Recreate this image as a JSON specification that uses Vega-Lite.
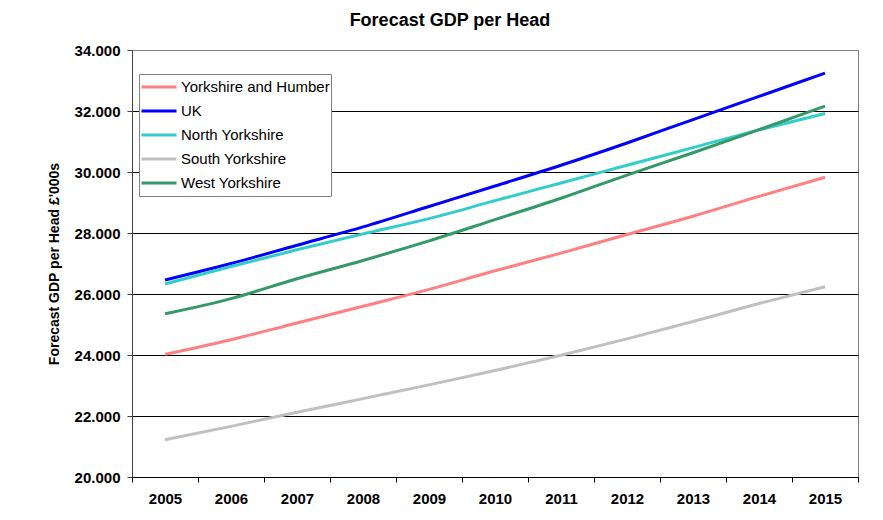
{
  "$schema": "https://vega.github.io/schema/vega-lite/v6.json",
  "width": 726,
  "height": 427,
  "autosize": {"type": "none"},
  "padding": {"left": 132, "top": 50, "right": 25, "bottom": 43},
  "background": "white",
  "title": {
    "text": "Forecast GDP per Head",
    "font": "Liberation Sans",
    "fontSize": 18,
    "fontWeight": "bold",
    "color": "black",
    "anchor": "middle",
    "dx": -45,
    "offset": 13
  },
  "config": {
    "font": "Liberation Sans",
    "view": {"stroke": "#808080", "strokeWidth": 1}
  },
  "data": {
    "values": [
      {"year": "2005", "region": "Yorkshire and Humber", "gdp": 24.02},
      {"year": "2006", "region": "Yorkshire and Humber", "gdp": 24.50},
      {"year": "2007", "region": "Yorkshire and Humber", "gdp": 25.05},
      {"year": "2008", "region": "Yorkshire and Humber", "gdp": 25.60},
      {"year": "2009", "region": "Yorkshire and Humber", "gdp": 26.15},
      {"year": "2010", "region": "Yorkshire and Humber", "gdp": 26.76},
      {"year": "2011", "region": "Yorkshire and Humber", "gdp": 27.34},
      {"year": "2012", "region": "Yorkshire and Humber", "gdp": 27.95},
      {"year": "2013", "region": "Yorkshire and Humber", "gdp": 28.55},
      {"year": "2014", "region": "Yorkshire and Humber", "gdp": 29.20},
      {"year": "2015", "region": "Yorkshire and Humber", "gdp": 29.83},
      {"year": "2005", "region": "UK", "gdp": 26.46},
      {"year": "2006", "region": "UK", "gdp": 27.00},
      {"year": "2007", "region": "UK", "gdp": 27.60},
      {"year": "2008", "region": "UK", "gdp": 28.20},
      {"year": "2009", "region": "UK", "gdp": 28.87},
      {"year": "2010", "region": "UK", "gdp": 29.54},
      {"year": "2011", "region": "UK", "gdp": 30.22},
      {"year": "2012", "region": "UK", "gdp": 30.95},
      {"year": "2013", "region": "UK", "gdp": 31.72},
      {"year": "2014", "region": "UK", "gdp": 32.48},
      {"year": "2015", "region": "UK", "gdp": 33.24},
      {"year": "2005", "region": "North Yorkshire", "gdp": 26.33},
      {"year": "2006", "region": "North Yorkshire", "gdp": 26.90},
      {"year": "2007", "region": "North Yorkshire", "gdp": 27.45},
      {"year": "2008", "region": "North Yorkshire", "gdp": 27.97},
      {"year": "2009", "region": "North Yorkshire", "gdp": 28.47},
      {"year": "2010", "region": "North Yorkshire", "gdp": 29.06},
      {"year": "2011", "region": "North Yorkshire", "gdp": 29.64},
      {"year": "2012", "region": "North Yorkshire", "gdp": 30.22},
      {"year": "2013", "region": "North Yorkshire", "gdp": 30.80},
      {"year": "2014", "region": "North Yorkshire", "gdp": 31.38},
      {"year": "2015", "region": "North Yorkshire", "gdp": 31.92},
      {"year": "2005", "region": "South Yorkshire", "gdp": 21.22},
      {"year": "2006", "region": "South Yorkshire", "gdp": 21.66},
      {"year": "2007", "region": "South Yorkshire", "gdp": 22.12},
      {"year": "2008", "region": "South Yorkshire", "gdp": 22.57},
      {"year": "2009", "region": "South Yorkshire", "gdp": 23.02},
      {"year": "2010", "region": "South Yorkshire", "gdp": 23.49},
      {"year": "2011", "region": "South Yorkshire", "gdp": 23.99},
      {"year": "2012", "region": "South Yorkshire", "gdp": 24.53},
      {"year": "2013", "region": "South Yorkshire", "gdp": 25.10},
      {"year": "2014", "region": "South Yorkshire", "gdp": 25.69},
      {"year": "2015", "region": "South Yorkshire", "gdp": 26.24},
      {"year": "2005", "region": "West Yorkshire", "gdp": 25.35},
      {"year": "2006", "region": "West Yorkshire", "gdp": 25.85},
      {"year": "2007", "region": "West Yorkshire", "gdp": 26.50},
      {"year": "2008", "region": "West Yorkshire", "gdp": 27.10},
      {"year": "2009", "region": "West Yorkshire", "gdp": 27.74},
      {"year": "2010", "region": "West Yorkshire", "gdp": 28.44},
      {"year": "2011", "region": "West Yorkshire", "gdp": 29.14},
      {"year": "2012", "region": "West Yorkshire", "gdp": 29.90},
      {"year": "2013", "region": "West Yorkshire", "gdp": 30.63},
      {"year": "2014", "region": "West Yorkshire", "gdp": 31.39},
      {"year": "2015", "region": "West Yorkshire", "gdp": 32.16}
    ]
  },
  "mark": {"type": "line", "strokeWidth": 3, "interpolate": "monotone"},
  "encoding": {
    "x": {
      "field": "year",
      "type": "ordinal",
      "scale": {"type": "band", "paddingInner": 0, "paddingOuter": 0},
      "axis": {
        "title": null,
        "labelAngle": 0,
        "labelFont": "Liberation Sans",
        "labelFontSize": 15,
        "labelFontWeight": "bold",
        "labelColor": "black",
        "labelPadding": 9,
        "tickBand": "extent",
        "tickSize": 5,
        "tickColor": "black",
        "domainColor": "black",
        "grid": false
      }
    },
    "y": {
      "field": "gdp",
      "type": "quantitative",
      "scale": {"domain": [20, 34], "nice": false, "zero": false},
      "axis": {
        "title": "Forecast GDP per Head £'000s",
        "titleFont": "Liberation Sans",
        "titleFontSize": 14,
        "titleFontWeight": "bold",
        "titleColor": "black",
        "titlePadding": 13,
        "values": [20, 22, 24, 26, 28, 30, 32, 34],
        "format": ".3f",
        "labelFont": "Liberation Sans",
        "labelFontSize": 15,
        "labelFontWeight": "bold",
        "labelColor": "black",
        "labelPadding": 7,
        "tickSize": 5,
        "tickColor": "#404040",
        "domainColor": "#404040",
        "grid": true,
        "gridColor": {"condition": {"test": "datum.value === 34", "value": "#808080"}, "value": "black"},
        "gridOpacity": 1,
        "gridWidth": 1
      }
    },
    "color": {
      "field": "region",
      "type": "nominal",
      "scale": {
        "domain": ["Yorkshire and Humber", "UK", "North Yorkshire", "South Yorkshire", "West Yorkshire"],
        "range": ["#FF8080", "#0000FF", "#33CCCC", "#C0C0C0", "#339966"]
      },
      "legend": {
        "title": null,
        "orient": "none",
        "legendX": 7,
        "legendY": 24,
        "symbolType": "stroke",
        "symbolSize": 1225,
        "symbolStrokeWidth": 3,
        "clipHeight": 24,
        "labelFont": "Liberation Sans",
        "labelFontSize": 15,
        "labelColor": "black",
        "labelOffset": 3,
        "rowPadding": 0,
        "padding": 1,
        "strokeColor": "#808080",
        "fillColor": "white"
      }
    }
  }
}
